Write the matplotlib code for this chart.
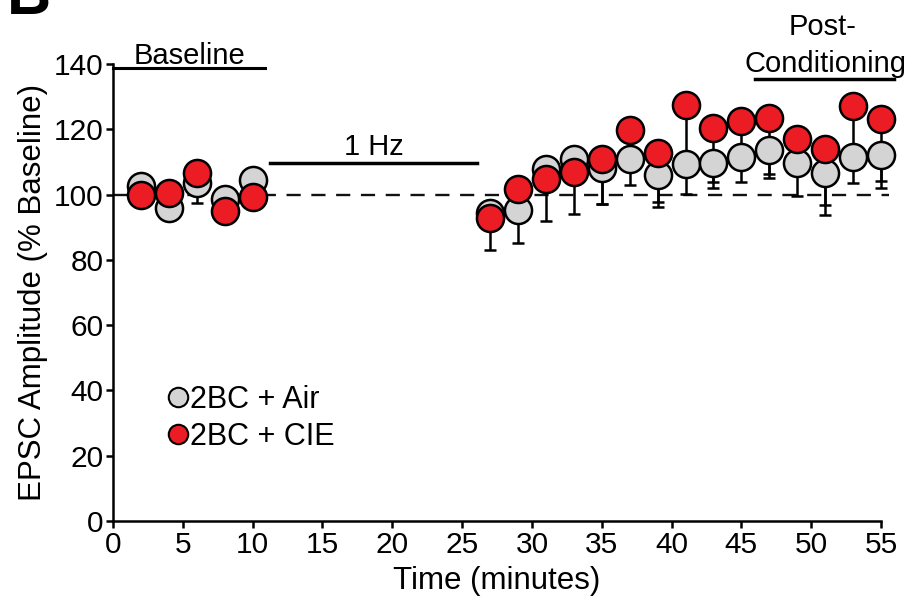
import matplotlib
matplotlib.use("Agg")
import matplotlib.pyplot as plt
from matplotlib.lines import Line2D

plt.rcParams['font.family'] = ['Liberation Sans', 'DejaVu Sans']

# ---- data ----
time_min = [2, 4, 6, 8, 10, 27, 29, 31, 33, 35, 37, 39, 41, 43, 45, 47, 49, 51, 53, 55]
air_mean = [102.5, 96.0, 103.5, 98.5, 104.5, 94.3, 95.3, 107.7, 110.9, 108.0,
            110.9, 106.0, 109.3, 109.6, 111.6, 113.7, 109.6, 106.5, 111.6, 112.1]
air_sem = [3, 3, 6, 3, 3, 4, 10, 5, 5, 11, 8, 8.2, 9, 5.6, 7.6, 7.5, 10, 12.7, 7.9, 10]
cie_mean = [99.8, 100.4, 106.6, 95.0, 99.4, 92.7, 101.6, 104.8, 106.8, 111.0,
            119.8, 112.8, 127.4, 120.3, 122.5, 123.6, 117.0, 113.9, 127.1, 123.2]
cie_sem = [3, 3, 3, 3, 3, 9.7, 5, 13, 12.8, 14, 8, 16.5, 18, 18.3, 14, 18.4, 8, 17, 18, 19]
labels = ['2BC + Air', '2BC + CIE']
x_ticks = [0, 5, 10, 15, 20, 25, 30, 35, 40, 45, 50, 55]
y_ticks = [0, 20, 40, 60, 80, 100, 120, 140]

GREY = '#d4d4d4'
RED = '#ec1c24'

fig = plt.figure(figsize=(9.16, 5.96), dpi=100)
ax = fig.add_axes([0.1234, 0.1258, 0.8384, 0.7668])

zeros = [0] * len(time_min)
ax.axhline(100, xmin=0, xmax=1.01, color='#111111', lw=1.7, ls=(0, (6, 4.5)), zorder=1, clip_on=False)

ax.errorbar(time_min, air_mean, yerr=[air_sem, zeros], fmt='none', ecolor='black',
            elinewidth=1.8, capsize=4.3, capthick=1.8, zorder=2, clip_on=False)
ax.errorbar(time_min, cie_mean, yerr=[cie_sem, zeros], fmt='none', ecolor='black',
            elinewidth=1.8, capsize=4.3, capthick=1.8, zorder=2, clip_on=False)
ax.plot(time_min, air_mean, 'o', ms=19.5, mfc=GREY, mec='black', mew=1.8, zorder=3,
        clip_on=False, label=labels[0])
ax.plot(time_min, cie_mean, 'o', ms=19.5, mfc=RED, mec='black', mew=1.8, zorder=4,
        clip_on=False, label=labels[1])

ax.set_xlim(0, 55)
ax.set_ylim(0, 140)
ax.set_xticks(x_ticks)
ax.set_yticks(y_ticks)
for s in ['top', 'right']:
    ax.spines[s].set_visible(False)
for s in ['left', 'bottom']:
    ax.spines[s].set_linewidth(1.8)
ax.tick_params(direction='out', length=5, width=1.8, labelsize=21.5, pad=2)
ax.set_xlabel('Time (minutes)', fontsize=22.5, labelpad=5)
ax.set_ylabel('EPSC Amplitude (% Baseline)', fontsize=22.5, labelpad=4)

# annotation bars
ax.plot([0, 10.9], [138.8, 138.8], color='black', lw=2.2, clip_on=False, zorder=5)
ax.text(5.45, 140.0, 'Baseline', ha='center', va='baseline', fontsize=21)
ax.plot([11.25, 26.1], [109.8, 109.8], color='black', lw=2.5, clip_on=False, zorder=5)
ax.text(18.7, 112.2, '1 Hz', ha='center', va='baseline', fontsize=21)
ax.plot([46.0, 55.9], [135.4, 135.4], color='black', lw=2.5, clip_on=False, zorder=5)
ax.text(51.0, 137.6, 'Conditioning', ha='center', va='baseline', fontsize=21)
ax.text(50.8, 148.8, 'Post-', ha='center', va='baseline', fontsize=21)

handles = [Line2D([], [], ls='none', marker='o', ms=14, mfc=GREY, mec='black', mew=1.5),
           Line2D([], [], ls='none', marker='o', ms=14, mfc=RED, mec='black', mew=1.5)]
ax.legend(handles, labels, loc='lower left', bbox_to_anchor=(0.049, 0.125), frameon=False,
          fontsize=22, handletextpad=-0.1, handlelength=1.0, labelspacing=0.22, borderaxespad=0)

fig.text(0.008, 1 - 14 / 596, 'B', fontsize=44, fontweight='bold', va='baseline', ha='left')

fig.savefig('out.png', dpi=100)
